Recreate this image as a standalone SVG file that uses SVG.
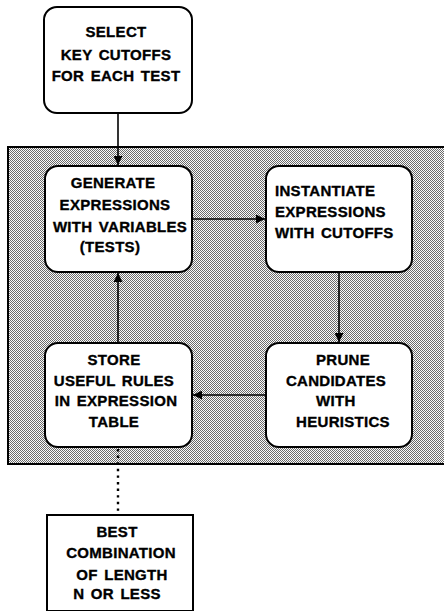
<svg xmlns="http://www.w3.org/2000/svg" width="444" height="611" viewBox="0 0 444 611">
<defs>
<pattern id="dither" width="2" height="2" patternUnits="userSpaceOnUse">
<rect width="2" height="2" fill="#fafafa"/>
<rect x="0" y="0" width="1" height="1" fill="#6a6a6a"/>
<rect x="1" y="1" width="1" height="1" fill="#6a6a6a"/>
</pattern>
<marker id="arr" viewBox="0 0 10 10" refX="10" refY="5" markerWidth="10" markerHeight="9" markerUnits="userSpaceOnUse" orient="auto">
<path d="M0,0 L10,5 L0,10 z" fill="#000"/>
</marker>
<style>
.box{fill:#fff;stroke:#000;stroke-width:2}
.t{font-family:"Liberation Sans",Arial,Helvetica,sans-serif;font-weight:bold;font-size:15px;fill:#000;stroke:#000;stroke-width:0.35;letter-spacing:0.3px;word-spacing:2px}
.m{text-anchor:middle}
.c{fill:none;stroke:#000;stroke-width:1.6}
</style>
</defs>
<g id="background">
<rect x="8" y="147" width="440" height="317" fill="url(#dither)" stroke="#000" stroke-width="2"/>
</g>
<g id="connectors">
<line class="c" x1="118" y1="113" x2="118" y2="165" marker-end="url(#arr)"/>
<line class="c" x1="192" y1="219" x2="265" y2="219" marker-end="url(#arr)"/>
<line class="c" x1="339" y1="272" x2="339" y2="342" marker-end="url(#arr)"/>
<line class="c" x1="266" y1="395" x2="193" y2="395" marker-end="url(#arr)"/>
<line class="c" x1="118" y1="343" x2="118" y2="273" marker-end="url(#arr)"/>
<line x1="118" y1="449" x2="118" y2="515" stroke="#000" stroke-width="2.4" stroke-dasharray="2.4 4.2"/>
</g>
<g id="select">
<rect class="box" x="44" y="7" width="148" height="106" rx="13"/>
<text class="t m" x="116" y="37">SELECT</text>
<text class="t m" x="116" y="60">KEY CUTOFFS</text>
<text class="t m" x="116" y="81">FOR EACH TEST</text>
</g>
<g id="generate">
<rect class="box" x="45" y="166" width="147" height="106" rx="13"/>
<text class="t m" x="113" y="188">GENERATE</text>
<text class="t m" x="115" y="210">EXPRESSIONS</text>
<text class="t m" x="120" y="232">WITH VARIABLES</text>
<text class="t m" x="110" y="252">(TESTS)</text>
</g>
<g id="instantiate">
<rect class="box" x="266" y="166" width="146" height="106" rx="13"/>
<text class="t" x="275" y="196">INSTANTIATE</text>
<text class="t" x="275" y="217">EXPRESSIONS</text>
<text class="t" x="275" y="238" word-spacing="5">WITH CUTOFFS</text>
</g>
<g id="store">
<rect class="box" x="45" y="343" width="147" height="104" rx="13"/>
<text class="t m" x="114" y="365">STORE</text>
<text class="t m" x="114" y="386">USEFUL RULES</text>
<text class="t m" x="116" y="406">IN EXPRESSION</text>
<text class="t m" x="114" y="427">TABLE</text>
</g>
<g id="prune">
<rect class="box" x="266" y="343" width="146" height="104" rx="13"/>
<text class="t" x="316" y="365">PRUNE</text>
<text class="t m" x="336" y="386">CANDIDATES</text>
<text class="t" x="316" y="406">WITH</text>
<text class="t m" x="343" y="427">HEURISTICS</text>
</g>
<g id="best">
<rect x="47" y="515" width="146" height="96" fill="#fff" stroke="#000" stroke-width="2"/>
<text class="t m" x="117" y="537">BEST</text>
<text class="t m" x="121" y="558">COMBINATION</text>
<text class="t m" x="122" y="580">OF LENGTH</text>
<text class="t m" x="117" y="599" word-spacing="0">N OR LESS</text>
</g>
</svg>
